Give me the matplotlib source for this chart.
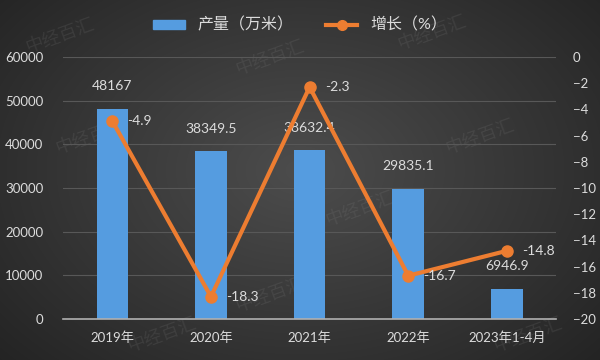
import matplotlib
matplotlib.use("Agg")
import matplotlib.pyplot as plt
import numpy as np
from matplotlib.lines import Line2D
from matplotlib.patches import Patch

plt.rcParams["font.family"] = ["Lato", "Noto Sans CJK SC", "DejaVu Sans"]

categories = ["2019年", "2020年", "2021年", "2022年", "2023年1-4月"]
output = [48167, 38349.5, 38632.4, 29835.1, 6946.9]
growth = [-4.9, -18.3, -2.3, -16.7, -14.8]
output_labels = ["48167", "38349.5", "38632.4", "29835.1", "6946.9"]
growth_labels = ["-4.9", "-18.3", "-2.3", "-16.7", "-14.8"]
left_ticks = [0, 10000, 20000, 30000, 40000, 50000, 60000]
right_ticks = list(range(-20, 1, 2))

TEXT = "#dcdcdc"
BLUE = "#559ce0"
ORANGE = "#ed7d31"
GRID = "#585858"

fig = plt.figure(figsize=(6, 3.6), dpi=100)

# radial dark background
bg = fig.add_axes([0, 0, 1, 1], zorder=-10)
yy, xx = np.mgrid[0:360, 0:600]
r = np.hypot((xx - 300) / 330, (yy - 170) / 230)
shade = np.clip(0.30 - 0.13 * r, 0.14, 0.30)
bg.imshow(np.dstack([shade] * 3), aspect="auto", extent=[0, 1, 0, 1])
bg.axis("off")

# faint watermarks
for wx, wy in [(0.10, 0.90), (0.72, 0.91), (0.15, 0.62), (0.45, 0.84),
               (0.60, 0.42), (0.80, 0.62), (0.27, 0.07), (0.88, 0.07), (0.45, 0.18)]:
    fig.text(wx, wy, "中经百汇", fontsize=13, color="#888888", alpha=0.16,
             rotation=20, ha="center", va="center", zorder=-5)

ax = fig.add_axes([0.105, 0.114, 0.822, 0.728])
ax.patch.set_alpha(0)
x = np.arange(len(categories))
ax.bar(x, output, width=0.32, color=BLUE, zorder=2)
ax.set_xlim(-0.5, len(categories) - 0.5)
ax.set_ylim(0, 60000)
ax.set_yticks(left_ticks)
ax.set_xticks(x, categories)
ax.grid(axis="y", color=GRID, lw=0.8, zorder=0)
ax.tick_params(length=0, colors=TEXT, labelsize=9.5)
ax.tick_params(axis="y", pad=14)
ax.tick_params(axis="x", pad=9)
for s in ["top", "left", "right"]:
    ax.spines[s].set_visible(False)
ax.spines["bottom"].set_color("#b0b0b0")
ax.spines["bottom"].set_linewidth(1.2)

for xi, v, lab in zip(x, output, output_labels):
    ax.annotate(lab, (xi, v), xytext=(0, 12), textcoords="offset points",
                ha="center", va="bottom", color=TEXT, fontsize=10)

ax2 = ax.twinx()
ax2.plot(x, growth, color=ORANGE, lw=3, marker="o", ms=8, zorder=3)
ax2.set_ylim(-20, 0)
ax2.set_yticks(right_ticks)
ax2.tick_params(length=0, colors=TEXT, labelsize=9.5, pad=12)
for s in ax2.spines.values():
    s.set_visible(False)

for xi, v, lab in zip(x, growth, growth_labels):
    ax2.annotate(lab, (xi, v), xytext=(11, 0), textcoords="offset points",
                 ha="left", va="center", color=TEXT, fontsize=10)

handles = [Patch(facecolor=BLUE, edgecolor=BLUE),
           Line2D([0], [0], color=ORANGE, lw=3, marker="o", ms=7)]
fig.legend(handles, ["产量（万米）", "增长（%）"], loc="center",
           bbox_to_anchor=(0.5, 0.93), ncol=2, frameon=False,
           labelcolor=TEXT, fontsize=11.5, handlelength=2.0, handleheight=0.5,
           columnspacing=2.0)

fig.savefig("out.png", dpi=100)
